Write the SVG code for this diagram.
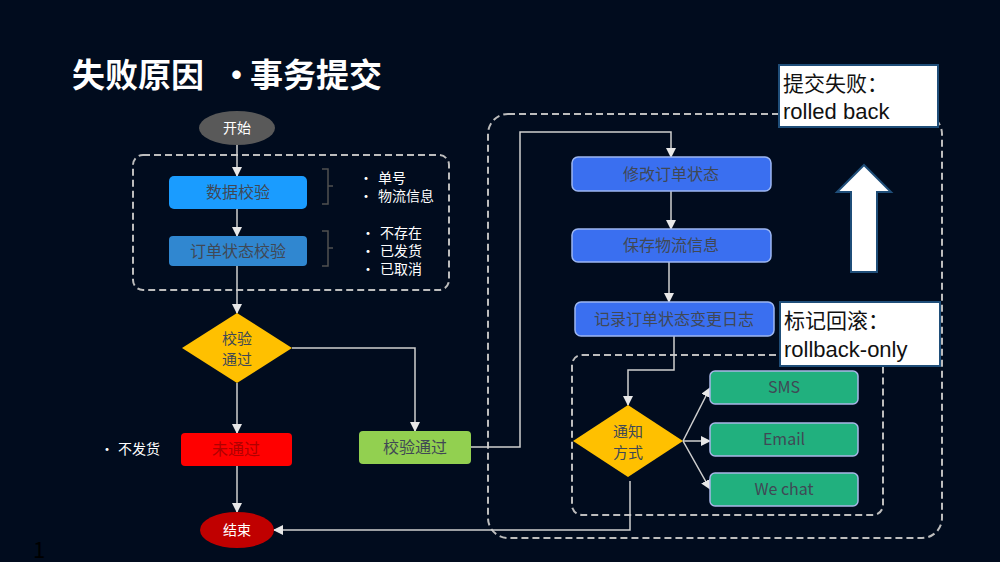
<svg xmlns="http://www.w3.org/2000/svg" width="1000" height="562" viewBox="0 0 1000 562">
<defs>
<marker id="ah" markerWidth="10" markerHeight="10" refX="9" refY="5" orient="auto" markerUnits="userSpaceOnUse">
<path d="M0,0 L10,5 L0,10 Z" fill="#e8e8e8"/>
</marker>
<style>
text{font-family:"Noto Sans CJK SC","Noto Sans",sans-serif}
.dash{fill:none;stroke:#bdbdbd;stroke-width:2;stroke-dasharray:7 4}
.conn{fill:none;stroke:#d0d0d0;stroke-width:1.5}
.arr{marker-end:url(#ah)}
.nt{font-size:16px;fill:#404855;text-anchor:middle}
.dt{font-size:15px;fill:#404855;text-anchor:middle}
.bl{font-size:14px;fill:#ffffff}
.bar{fill:none;stroke:#505050;stroke-width:1.5}
.blue{fill:#3a6ff0;stroke:#9db7f2;stroke-width:1.5}
.green{fill:#21b07e;stroke:#a9b6e8;stroke-width:1.5}
.note{fill:#ffffff;stroke:#1f4e79;stroke-width:2}
.nl{font-size:21px;fill:#111111}
.nll{font-size:22px;fill:#111111;font-family:"Liberation Sans",Arial,sans-serif}
</style>
</defs>
<rect width="1000" height="562" fill="#010c1e"/>

<text x="72" y="87" font-size="33" font-weight="bold" fill="#ffffff">失败原因</text>
<text x="220" y="87" font-size="33" font-weight="bold" fill="#ffffff" font-family="Liberation Sans,Arial,sans-serif">•</text>
<text x="250" y="87" font-size="33" font-weight="bold" fill="#ffffff">事务提交</text>
<text x="33" y="558" font-size="22" fill="#000000" font-family="Liberation Sans,Arial,sans-serif">1</text>

<g id="groups">
<rect class="dash" x="133" y="155" width="316" height="135" rx="10"/>
<rect class="dash" x="488" y="114" width="454" height="424" rx="20"/>
<rect class="dash" x="572" y="355" width="311" height="160" rx="10"/>
</g>

<g id="connectors">
<path class="conn arr" d="M237,145 V176"/>
<path class="conn arr" d="M237,209 V236"/>
<path class="conn arr" d="M237,266 V313"/>
<path class="conn arr" d="M292,348 H415 V431"/>
<path class="conn arr" d="M237,383 V433"/>
<path class="conn arr" d="M237,466 V512"/>
<path class="conn arr" d="M471,447 H520 V132 H671 V157"/>
<path class="conn arr" d="M671,191 V229"/>
<path class="conn arr" d="M669,262 V302"/>
<path class="conn arr" d="M674,336 V370 H628 V405"/>
<path class="conn arr" d="M683,441 L710,388"/>
<path class="conn arr" d="M683,441 H710"/>
<path class="conn arr" d="M683,441 L710,489"/>
<path class="conn arr" d="M630,481 V530 H274"/>
</g>

<g id="start">
<ellipse cx="237" cy="128" rx="38" ry="17" fill="#595959"/>
<text x="237" y="133" font-size="14" fill="#ffffff" text-anchor="middle">开始</text>
</g>

<g id="data-check">
<rect x="169" y="176" width="138" height="33" rx="5" fill="#1a9cff"/>
<text class="nt" x="238" y="198">数据校验</text>
<path class="bar" d="M322,169 H328 V186 L333,186 M328,186 V204 H322"/>
<text class="bl" x="359" y="183">•</text><text class="bl" x="378" y="183">单号</text>
<text class="bl" x="359" y="201">•</text><text class="bl" x="378" y="201">物流信息</text>
</g>

<g id="order-check">
<rect x="169" y="236" width="138" height="30" rx="4" fill="#3087d0"/>
<text class="nt" x="238" y="257">订单状态校验</text>
<path class="bar" d="M322,231 H328 V248 L333,248 M328,248 V266 H322"/>
<text class="bl" x="361" y="238">•</text><text class="bl" x="380" y="238">不存在</text>
<text class="bl" x="361" y="256">•</text><text class="bl" x="380" y="256">已发货</text>
<text class="bl" x="361" y="274">•</text><text class="bl" x="380" y="274">已取消</text>
</g>

<g id="check-pass-decision">
<polygon points="237,313 292,348 237,383 182,348" fill="#ffc000"/>
<text class="dt" x="237" y="344">校验</text>
<text class="dt" x="237" y="365">通过</text>
</g>

<g id="fail">
<rect x="181" y="433" width="111" height="33" rx="4" fill="#ff0000"/>
<text class="nt" x="236" y="455" style="fill:#b00000">未通过</text>
<text class="bl" x="100" y="454">•</text><text class="bl" x="118" y="454">不发货</text>
</g>

<g id="pass">
<rect x="359" y="431" width="112" height="33" rx="4" fill="#92d050"/>
<text class="nt" x="415" y="453">校验通过</text>
</g>

<g id="end">
<ellipse cx="237" cy="530" rx="37" ry="18" fill="#c00000"/>
<text x="237" y="535" font-size="14" fill="#ffffff" text-anchor="middle">结束</text>
</g>

<g id="update-order">
<rect class="blue" x="572" y="157" width="199" height="34" rx="6"/>
<text class="nt" x="671" y="180">修改订单状态</text>
</g>

<g id="save-logistics">
<rect class="blue" x="572" y="229" width="199" height="33" rx="6"/>
<text class="nt" x="671" y="251">保存物流信息</text>
</g>

<g id="log-change">
<rect class="blue" x="575" y="302" width="199" height="34" rx="6"/>
<text class="nt" x="674" y="325">记录订单状态变更日志</text>
</g>

<g id="notify-decision">
<polygon points="628,405 683,441 628,477 573,441" fill="#ffc000"/>
<text class="dt" x="628" y="437">通知</text>
<text class="dt" x="628" y="458">方式</text>
</g>

<g id="sms">
<rect class="green" x="710" y="371" width="148" height="33" rx="5"/>
<text class="nt" x="784" y="393">SMS</text>
</g>
<g id="email">
<rect class="green" x="710" y="423" width="148" height="33" rx="5"/>
<text class="nt" x="784" y="445">Email</text>
</g>
<g id="wechat">
<rect class="green" x="710" y="473" width="148" height="33" rx="5"/>
<text class="nt" x="784" y="495">We chat</text>
</g>

<g id="note-rolled-back">
<rect class="note" x="779" y="65" width="159" height="62"/>
<text class="nl" x="783" y="91">提交失败：</text>
<text class="nll" x="783" y="119">rolled back</text>
</g>

<g id="note-rollback-only">
<rect class="note" x="780" y="302" width="160" height="64"/>
<text class="nl" x="784" y="328">标记回滚：</text>
<text class="nll" x="784" y="357">rollback-only</text>
</g>

<g id="up-arrow">
<polygon points="864,165 891,192 877,192 877,272 851,272 851,192 837,192" fill="#ffffff" stroke="#1f4e79" stroke-width="2"/>
</g>
</svg>
